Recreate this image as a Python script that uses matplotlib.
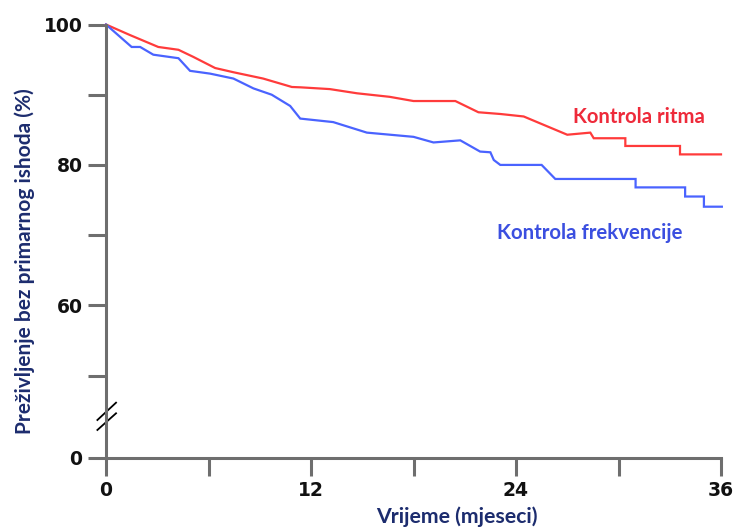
import numpy as np
import matplotlib
matplotlib.use("Agg")
import matplotlib.pyplot as plt
from matplotlib.lines import Line2D

# ---- data ----
ritam_t = [0, 1.4, 3.06, 4.24, 5.1, 6.39, 7.46, 9.2, 10.88, 11.4, 13.1, 14.7, 16.6, 18.0,
           20.45, 21.8, 23.1, 24.45, 27.0, 28.35, 28.55, 30.4, 30.4, 33.6, 33.6, 36.0]
ritam_s = [100, 98.5, 96.8, 96.4, 95.4, 93.8, 93.2, 92.3, 91.1, 91.05, 90.8, 90.2, 89.7, 89.1,
           89.1, 87.5, 87.25, 86.9, 84.3, 84.6, 83.8, 83.8, 82.7, 82.7, 81.5, 81.5]

frek_t = [0, 1.5, 2.0, 2.77, 4.24, 4.92, 6.1, 7.46, 8.63, 9.7, 10.78, 11.37, 13.3, 15.27,
          18.0, 19.17, 20.74, 21.9, 22.5, 22.7, 23.08, 25.5, 26.3, 31.0, 31.0, 33.9, 33.9,
          35.0, 35.0, 36.05]
frek_s = [100, 96.8, 96.8, 95.7, 95.2, 93.4, 93.0, 92.3, 90.9, 90.0, 88.4, 86.6, 86.1, 84.6,
          84.0, 83.2, 83.5, 81.9, 81.8, 80.7, 80.0, 80.0, 78.0, 78.0, 76.8, 76.8, 75.5,
          75.5, 74.05, 74.05]

y_ticks = [0, 50, 60, 70, 80, 90, 100]
y_ticklabels = ["0", "", "60", "", "80", "", "100"]
x_ticks = [0, 6, 12, 18, 24, 30, 36]
x_ticklabels = ["0", "", "12", "", "24", "", "36"]

# ---- broken y scale: 0..50 compressed ----
ZERO_POS = 38.3
def fwd(v):
    v = np.asarray(v, dtype=float)
    return np.where(v >= 50, v, ZERO_POS + v * (50 - ZERO_POS) / 50)
def inv(u):
    u = np.asarray(u, dtype=float)
    return np.where(u >= 50, u, (u - ZERO_POS) * 50 / (50 - ZERO_POS))

fig = plt.figure(figsize=(7.4, 5.29), dpi=100)
ax = fig.add_axes([106/740, 1-457.7/529, (721-106)/740, (457.7-24.5)/529])
ax.set_yscale("function", functions=(fwd, inv))
ax.set_xlim(0, 36)
ax.set_ylim(0, 100)

red = "#ff3b3b"
blue = "#4a63ff"
ax.plot(ritam_t, ritam_s, color=red, lw=1.6, clip_on=False, solid_joinstyle="miter")
ax.plot(frek_t, frek_s, color=blue, lw=1.6, clip_on=False, solid_joinstyle="miter")

spine_c = "#6e6e6e"
for s in ["top", "right"]:
    ax.spines[s].set_visible(False)
for s in ["left", "bottom"]:
    ax.spines[s].set_color(spine_c)
    ax.spines[s].set_linewidth(2.2)

ax.set_yticks(y_ticks)
ax.set_yticklabels(y_ticklabels)
ax.set_xticks(x_ticks)
ax.set_xticklabels(x_ticklabels)
ax.tick_params(axis="both", direction="out", length=13, width=2.2, color=spine_c,
               labelsize=13.5, pad=4)
for lab in ax.get_xticklabels() + ax.get_yticklabels():
    lab.set_fontweight("bold")
    lab.set_fontfamily("DejaVu Sans")
    lab.set_color("#111111")

lab_c = "#1c2c6e"
ax.text(457/740, 1-517/529, "Vrijeme (mjeseci)", transform=fig.transFigure, ha="center",
        va="center", fontsize=15.3, fontweight="bold", family="Lato", color=lab_c)
fig.text(25/740, 1-261.5/529, "Preživljenje bez primarnog ishoda (%)", rotation=90,
         ha="center", va="center", fontsize=15, fontweight="bold", family="Lato", color=lab_c)

ax.text(639/740, 1-117/529, "Kontrola ritma", transform=fig.transFigure, ha="center",
        va="center", fontsize=14.6, fontweight="bold", family="Lato", color="#ee2a3a")
ax.text(589.5/740, 1-233/529, "Kontrola frekvencije", transform=fig.transFigure, ha="center",
        va="center", fontsize=14.7, fontweight="bold", family="Lato", color="#3b4fe0")

# break marks on the y axis
for y0, y1 in [(0.087, 0.127), (0.064, 0.1025)]:
    ax.add_line(Line2D([-0.014, 0.0163], [y0, y1], transform=ax.transAxes, color="black",
                       lw=1.3, clip_on=False))

fig.savefig("out.png", dpi=100)
